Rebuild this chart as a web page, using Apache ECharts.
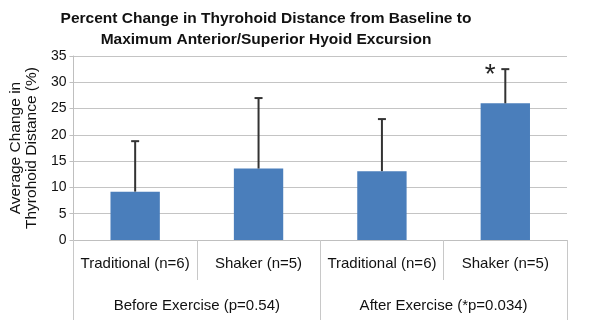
<!DOCTYPE html>
<html><head><meta charset="utf-8">
<script src="https://cdn.jsdelivr.net/npm/echarts@6/dist/echarts.min.js"></script>
<style>html,body{margin:0;padding:0;background:#fff}#c{width:600px;height:334px}</style>
</head><body><div id="c"></div>
<script>
var categories = ['Traditional (n=6)', 'Shaker (n=5)', 'Traditional (n=6)', 'Shaker (n=5)'];
var groups = ['Before Exercise (p=0.54)', 'After Exercise (*p=0.034)'];
var means = [9.2, 13.6, 13.1, 26.0];
var errorTops = [18.8, 27.0, 23.0, 32.5];
var marks = ['', '', '', '*'];
var titleLines = ['Percent Change in Thyrohoid Distance from Baseline to', 'Maximum Anterior/Superior Hyoid Excursion'];
var yName = 'Average Change in\nThyrohoid Distance (%)';

var chart = echarts.init(document.getElementById('c'), null, {renderer: 'canvas'});
var font = 'Liberation Sans, Arial, sans-serif';
chart.setOption({
  animation: false,
  textStyle: {fontFamily: font},
  title: {
    text: titleLines.join('\n'), left: 261, top: 3, textAlign: 'center',
    textStyle: {fontSize: 15.5, fontWeight: 'bold', color: '#111', lineHeight: 21, fontFamily: font}
  },
  grid: {left: 71, right: 33, top: 56, bottom: 94},
  xAxis: [{
    type: 'category', data: categories, position: 'bottom',
    axisLine: {show: true, lineStyle: {color: '#bfbfbf', width: 1}},
    axisTick: {show: true, interval: 0, length: 40, lineStyle: {color: '#c8c8c8', width: 1}},
    axisLabel: {interval: 0, hideOverlap: false, color: '#111', fontSize: 15, margin: 16, fontFamily: font}
  }, {
    type: 'category', data: groups, position: 'bottom', gridIndex: 0,
    axisLine: {show: false},
    axisTick: {show: true, interval: 0, length: 80, lineStyle: {color: '#c8c8c8', width: 1}},
    axisLabel: {interval: 0, hideOverlap: false, color: '#111', fontSize: 15, margin: 58, fontFamily: font}
  }],
  yAxis: {
    type: 'value', min: 0, max: 35, interval: 5,
    name: yName, nameLocation: 'middle', nameRotate: 90, nameGap: 33,
    nameTextStyle: {fontSize: 15.5, color: '#111', lineHeight: 16, fontFamily: font},
    axisLine: {show: true, lineStyle: {color: '#bfbfbf'}},
    axisTick: {show: true, length: 4, lineStyle: {color: '#bfbfbf'}},
    axisLabel: {color: '#111', fontSize: 14, margin: 7, fontFamily: font},
    splitLine: {lineStyle: {color: '#c4c4c4', width: 1}}
  },
  series: [{
    type: 'bar', data: means, barWidth: '40%',
    itemStyle: {color: '#4a7ebb'}
  }, {
    type: 'custom',
    data: means.map(function (m, i) { return [i, m, errorTops[i], marks[i]]; }),
    renderItem: function (params, api) {
      var base = api.coord([api.value(0), api.value(1)]);
      var top = api.coord([api.value(0), api.value(2)]);
      var children = [
        {type: 'line', shape: {x1: base[0], y1: base[1], x2: top[0], y2: top[1]}, style: {stroke: '#333', lineWidth: 2}},
        {type: 'line', shape: {x1: top[0] - 4, y1: top[1], x2: top[0] + 4, y2: top[1]}, style: {stroke: '#333', lineWidth: 2}}
      ];
      var mk = marks[params.dataIndex];
      if (mk) {
        children.push({type: 'text', style: {text: mk, x: top[0] - 15, y: top[1] + 6, textAlign: 'center', textVerticalAlign: 'middle', font: '28px ' + font, fill: '#222'}});
      }
      return {type: 'group', children: children};
    },
    z: 5
  }]
});
</script></body></html>
